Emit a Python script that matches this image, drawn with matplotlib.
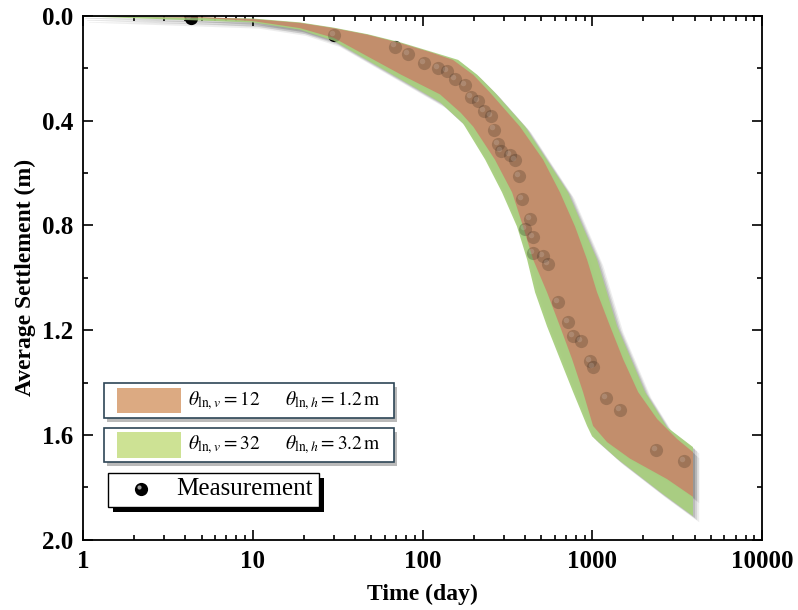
import numpy as np
import matplotlib.pyplot as plt
from matplotlib.patches import Rectangle
import matplotlib.patheffects as pe
from matplotlib.transforms import offset_copy

plt.rcParams['font.family'] = ['Liberation Serif', 'DejaVu Serif']
plt.rcParams['mathtext.fontset'] = 'stix'

# band edges (time in days, settlement in m)
brown_up_t = [1, 5, 10, 19, 30, 47.5, 75, 113, 151, 199, 250, 375, 513, 645, 791, 931, 1066, 1273, 1518, 1862,
              2410, 3155, 3917]
brown_up_s = [0.0, 0.005, 0.012, 0.027, 0.047, 0.072, 0.105, 0.14, 0.168, 0.225, 0.293, 0.423, 0.549, 0.674,
              0.804, 0.93, 1.055, 1.185, 1.31, 1.436, 1.539, 1.615, 1.665]
brown_lo_t = [1, 5, 10, 19, 30, 47.5, 75, 127, 168, 199, 267, 337, 391, 448, 541, 645, 760, 882, 1010, 1222, 1668,
              2754, 3917]
brown_lo_s = [0.0, 0.008, 0.02, 0.047, 0.084, 0.155, 0.225, 0.30, 0.37, 0.423, 0.549, 0.674, 0.804, 0.93, 1.055,
              1.185, 1.31, 1.436, 1.565, 1.627, 1.69, 1.768, 1.836]

green_up_t = [1, 10, 19, 30, 47.5, 75, 113, 162, 210, 267, 402, 720, 1066, 1400, 2046, 2754, 3917]
green_up_s = [0.0, 0.01, 0.025, 0.045, 0.07, 0.102, 0.137, 0.168, 0.225, 0.293, 0.423, 0.674, 0.93, 1.185, 1.436,
              1.57, 1.646]
green_lo_t = [1, 10, 19, 30, 75, 127, 173, 234, 294, 360, 413, 460, 541, 645, 771, 931, 997, 1400, 2508, 3917]
green_lo_s = [0.002, 0.025, 0.053, 0.095, 0.244, 0.33, 0.41, 0.549, 0.674, 0.804, 0.93, 1.055, 1.185, 1.31, 1.436,
              1.565, 1.605, 1.69, 1.817, 1.909]

meas_t = [4.3, 30, 69, 82, 102, 123, 139, 156, 177, 193, 212, 230, 254, 264, 280, 291, 326, 349,
          368, 386, 400, 428, 448, 448, 513, 549, 630, 721, 772, 856, 968, 1012, 1202, 1455, 2365, 3474]
meas_s = [0.008, 0.072, 0.117, 0.146, 0.180, 0.199, 0.21, 0.241, 0.263, 0.31, 0.326, 0.364, 0.381, 0.434, 0.49,
          0.517, 0.53, 0.549, 0.61, 0.70, 0.815, 0.775, 0.843, 0.904, 0.917, 0.949, 1.092, 1.168, 1.222, 1.241,
          1.317, 1.342, 1.46, 1.505, 1.656, 1.698]

x_ticks = [1, 10, 100, 1000, 10000]
x_labels = ['1', '10', '100', '1000', '10000']
y_ticks = [0.0, 0.4, 0.8, 1.2, 1.6, 2.0]

fig = plt.figure(figsize=(7.98, 6.10), dpi=100)
ax = fig.add_axes([0.104, 0.115, 0.851, 0.859])


def band(t_up, s_up, t_lo, s_lo, color, z):
    xs = np.r_[t_up, t_lo[::-1]]
    ys = np.r_[s_up, s_lo[::-1]]
    # soft grey drop shadow, drawn below everything else
    for d, a in [(1.5, 0.25), (3, 0.2), (4.5, 0.12)]:
        sh = offset_copy(ax.transData, fig=fig, x=d, y=-d, units='points')
        ax.fill(xs, ys, color='0.45', alpha=a, lw=0, zorder=1, transform=sh)
    ax.fill(xs, ys, color=color, alpha=0.95, lw=0, zorder=z)


# black spheres under the bands, then a translucent dark pass on top so they take the band's tint
hl = offset_copy(ax.transData, fig=fig, x=-1.5, y=1.5, units='points')
ax.plot(meas_t, meas_s, 'o', color='black', ms=9.5, mew=0, zorder=2)
ax.plot(meas_t, meas_s, 'o', color='black', alpha=0.18, ms=9.5, mew=0, zorder=5)
ax.plot(meas_t, meas_s, 'o', color='white', alpha=0.15, ms=4, mew=0, zorder=5, transform=hl)

band(green_up_t, green_up_s, green_lo_t, green_lo_s, '#a8cf7f', 3)
band(brown_up_t, brown_up_s, brown_lo_t, brown_lo_s, '#c48b6b', 4)

ax.set_xscale('log')
ax.set_xlim(1, 10000)
ax.set_ylim(2.0, 0.0)
ax.set_xticks(x_ticks)
ax.set_xticklabels(x_labels)
ax.set_yticks(y_ticks)
ax.set_yticklabels(['%.1f' % v for v in y_ticks])
ax.set_yticks(np.arange(0.2, 2.0, 0.4), minor=True)
ax.tick_params(which='both', direction='in', top=True, right=True, width=1.2)
ax.tick_params(which='major', length=7, labelsize=18, pad=7)
ax.tick_params(which='minor', length=3.5)
for lab in ax.get_xticklabels() + ax.get_yticklabels():
    lab.set_fontweight('bold')
for sp in ax.spines.values():
    sp.set_linewidth(1.3)
    sp.set_zorder(6)

ax.set_xlabel('Time (day)', fontsize=17, fontweight='bold', labelpad=8)
ax.set_ylabel('Average Settlement (m)', fontsize=17, fontweight='bold', labelpad=4)

# hand-made legend boxes
soft = [pe.SimplePatchShadow(offset=(2, -3), shadow_rgbFace='0.4', alpha=0.45), pe.Normal()]
hard = [pe.SimplePatchShadow(offset=(3.5, -3.5), shadow_rgbFace='black', alpha=1), pe.Normal()]
tr = ax.transAxes
ax.add_patch(Rectangle((0.031, 0.233), 0.427, 0.067, transform=tr, fc='white', ec='#2e4656',
                       lw=1.2, zorder=10, path_effects=soft))
ax.add_patch(Rectangle((0.031, 0.149), 0.427, 0.065, transform=tr, fc='white', ec='#2e4656',
                       lw=1.2, zorder=10, path_effects=soft))
ax.add_patch(Rectangle((0.037, 0.063), 0.311, 0.065, transform=tr, fc='white', ec='black',
                       lw=1.0, zorder=10, path_effects=hard))
ax.add_patch(Rectangle((0.050, 0.242), 0.094, 0.048, transform=tr, fc='#dcaa82', lw=0, zorder=11))
ax.add_patch(Rectangle((0.050, 0.157), 0.094, 0.049, transform=tr, fc='#cde294', lw=0, zorder=11))
ax.text(0.155, 0.266, r'$\theta_{\mathrm{ln},v}=12$', transform=tr, fontsize=14, va='center', zorder=12)
ax.text(0.297, 0.266, r'$\theta_{\mathrm{ln},h}=1.2\,\mathrm{m}$', transform=tr, fontsize=14, va='center', zorder=12)
ax.text(0.155, 0.181, r'$\theta_{\mathrm{ln},v}=32$', transform=tr, fontsize=14, va='center', zorder=12)
ax.text(0.297, 0.181, r'$\theta_{\mathrm{ln},h}=3.2\,\mathrm{m}$', transform=tr, fontsize=14, va='center', zorder=12)
hl_ax = offset_copy(tr, fig=fig, x=-1.5, y=1.5, units='points')
ax.plot([0.085], [0.097], 'o', color='black', ms=9.5, mew=0, transform=tr, zorder=12)
ax.plot([0.085], [0.097], 'o', color='#9a9a9a', ms=3, mew=0, transform=hl_ax, zorder=12)
ax.text(0.138, 0.097, 'Measurement', transform=tr, fontsize=18, va='center', zorder=12)

fig.savefig('out.png', dpi=100)
